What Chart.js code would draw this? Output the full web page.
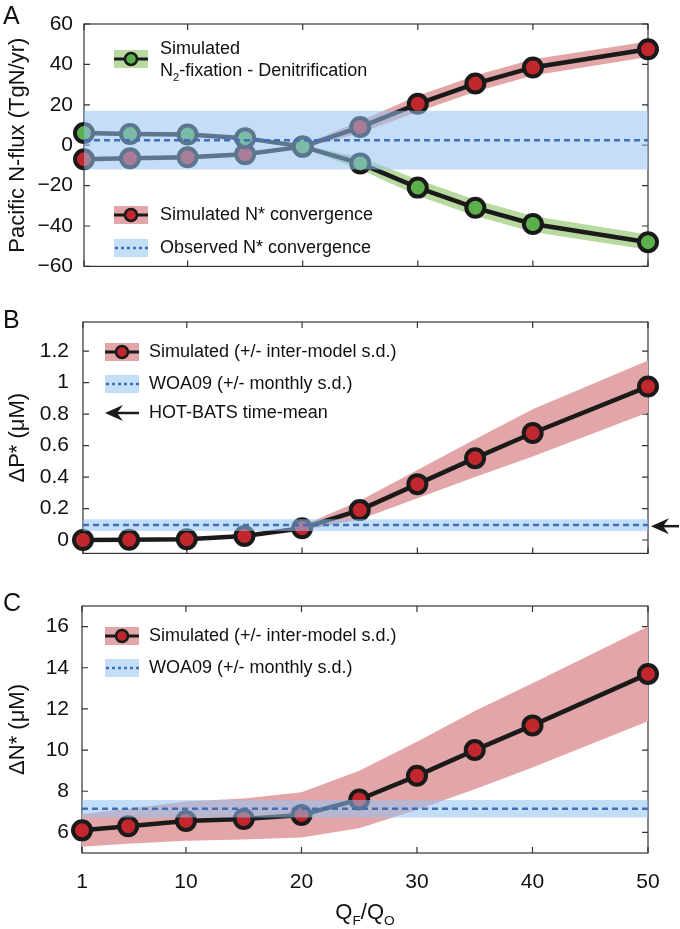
<!DOCTYPE html>
<html lang="en">
<head>
<meta charset="UTF-8">
<title>Pacific N-flux, ΔP* and ΔN* against QF/QO</title>
<script src="https://cdn.jsdelivr.net/npm/chart.js"></script>
<style>
  html, body { margin: 0; padding: 0; background: #fff; }
  #wrap { position: relative; width: 680px; height: 929px; }
  canvas { position: absolute; left: 0; }
</style>
</head>
<body>
<div id="wrap">
  <canvas id="panelA" width="680" height="290" style="top:0"></canvas>
  <canvas id="panelB" width="680" height="290" style="top:290px"></canvas>
  <canvas id="panelC" width="680" height="349" style="top:580px"></canvas>
</div>
<script>
// shared x: QF/QO
const qRatio = [1, 5, 10, 15, 20, 25, 30, 35, 40, 50];
const xTicks = [1, 10, 20, 30, 40, 50];

// panel A: Pacific N-flux (TgN/yr)
const fixDenit = [6, 5.5, 5.3, 3.5, -0.7, -9, -21, -31, -39, -48];
const fixDenitSd = [1, 1, 1, 1, 0.8, 3, 4, 4, 4, 3.8];
const nStarConv = [-7, -6.5, -6, -4.5, -0.7, 9, 20.5, 30.5, 38.5, 47.5];
const nStarConvSd = [1, 1, 1, 1, 0.8, 3, 4, 4, 4, 3.8];
const obsConv = 2.5, obsConvSd = 14.5;
const yTicksA = [-60, -40, -20, 0, 20, 40, 60];

// panel B: ΔP* (μM)
const dPstar = [0, 0.002, 0.005, 0.025, 0.075, 0.19, 0.355, 0.52, 0.68, 0.975];
const dPstarSd = [0.004, 0.004, 0.005, 0.008, 0.015, 0.06, 0.09, 0.12, 0.15, 0.165];
const woaP = 0.095, woaPSd = 0.037;
const hotBatsP = 0.088;
const yTicksB = [0, 0.2, 0.4, 0.6, 0.8, 1, 1.2];

// panel C: ΔN* (μM)
const dNstar = [6.1, 6.3, 6.55, 6.65, 6.85, 7.6, 8.75, 10.0, 11.2, 13.7];
const dNstarSd = [0.8, 0.85, 0.95, 1.0, 1.1, 1.4, 1.65, 1.9, 2.05, 2.3];
const woaN = 7.15, woaNSd = 0.42;
const yTicksC = [6, 8, 10, 12, 14, 16];

const FONT = "'Liberation Sans', Arial, sans-serif";
const INK = '#1a1a1a';
const RED = '#c1272d', GREEN = '#5cb04c';
const RED_BAND = '#e3a6a8', GREEN_BAND = '#b8daa0';
const BLUE_BAND = 'rgba(150,195,240,0.55)', BLUE_LINE = '#3f6fb8';

Chart.defaults.font.family = FONT;
Chart.defaults.color = '#111';

const pts = ys => qRatio.map((x, i) => ({ x, y: ys[i] }));
const shifted = (ys, sd, k) => qRatio.map((x, i) => ({ x, y: ys[i] + k * sd[i] }));
const flat = v => [{ x: qRatio[0], y: v }, { x: qRatio[qRatio.length - 1], y: v }];

function series(ys, color) {
  return { data: pts(ys), borderColor: INK, borderWidth: 4.5, pointRadius: 9, pointBorderWidth: 4,
    pointBackgroundColor: color, pointBorderColor: INK, tension: 0, clip: false, fill: false, order: 3 };
}
function band(ys, sd, color) {
  return [
    { data: shifted(ys, sd, 1), borderWidth: 0, pointRadius: 0, backgroundColor: color, fill: '+1', order: 5 },
    { data: shifted(ys, sd, -1), borderWidth: 0, pointRadius: 0, fill: false, order: 5 }
  ];
}
function obs(mean, sd) {
  return [
    { data: flat(mean + sd), borderWidth: 0, pointRadius: 0, backgroundColor: BLUE_BAND, fill: '+1', order: 2 },
    { data: flat(mean - sd), borderWidth: 0, pointRadius: 0, fill: false, order: 2 },
    { data: flat(mean), borderColor: BLUE_LINE, borderWidth: 2.5, borderDash: [6, 4], pointRadius: 0, fill: false, order: 1 }
  ];
}

function drawRich(ctx, parts, x, y, size) {
  ctx.textBaseline = 'middle';
  ctx.textAlign = 'left';
  parts.forEach(p => {
    const s = p.sub ? size * 0.62 : size;
    ctx.font = s + 'px ' + FONT;
    ctx.fillText(p.t, x, p.sub ? y + size * 0.38 : y);
    x += ctx.measureText(p.t).width;
  });
  return x;
}

function drawArrow(ctx, tipX, tailX, y) {
  ctx.strokeStyle = INK; ctx.fillStyle = INK; ctx.lineWidth = 2.5;
  ctx.beginPath(); ctx.moveTo(tailX, y); ctx.lineTo(tipX + 10, y); ctx.stroke();
  ctx.beginPath();
  ctx.moveTo(tipX, y); ctx.lineTo(tipX + 18, y - 8); ctx.lineTo(tipX + 12, y);
  ctx.lineTo(tipX + 18, y + 8); ctx.closePath(); ctx.fill();
}

function drawSymbol(ctx, kind, x0, x1, y) {
  ctx.save();
  if (kind === 'red' || kind === 'green') {
    ctx.fillStyle = kind === 'red' ? RED_BAND : GREEN_BAND;
    ctx.fillRect(x0, y - 9, x1 - x0, 18);
    ctx.strokeStyle = INK; ctx.lineWidth = 3;
    ctx.beginPath(); ctx.moveTo(x0, y); ctx.lineTo(x1, y); ctx.stroke();
    ctx.beginPath(); ctx.arc((x0 + x1) / 2, y, 6, 0, 2 * Math.PI);
    ctx.fillStyle = kind === 'red' ? RED : GREEN; ctx.fill();
    ctx.lineWidth = 2.5; ctx.stroke();
  } else if (kind === 'blue') {
    ctx.fillStyle = BLUE_BAND;
    ctx.fillRect(x0, y - 9, x1 - x0, 18);
    ctx.strokeStyle = BLUE_LINE; ctx.lineWidth = 2.5; ctx.setLineDash([3, 3]);
    ctx.beginPath(); ctx.moveTo(x0 + 1, y); ctx.lineTo(x1, y); ctx.stroke();
  } else if (kind === 'arrow') {
    drawArrow(ctx, x0, x1, y);
  }
  ctx.restore();
}

// frame, inward ticks, panel letter, legend and extras
function deco(cfg) {
  return {
    id: 'deco' + cfg.letter,
    beforeDatasetsDraw(chart) {
      const { ctx, chartArea: a, scales: { x, y } } = chart;
      ctx.save();
      ctx.strokeStyle = '#333'; ctx.lineWidth = 1.2;
      ctx.strokeRect(a.left, a.top, a.right - a.left, a.bottom - a.top);
      ctx.beginPath();
      xTicks.forEach(v => {
        const px = x.getPixelForValue(v);
        ctx.moveTo(px, a.top); ctx.lineTo(px, a.top + 6);
        ctx.moveTo(px, a.bottom); ctx.lineTo(px, a.bottom - 6);
      });
      cfg.yTicks.forEach(v => {
        const py = y.getPixelForValue(v);
        ctx.moveTo(a.left, py); ctx.lineTo(a.left + 6, py);
        ctx.moveTo(a.right, py); ctx.lineTo(a.right - 6, py);
      });
      ctx.stroke();
      ctx.restore();
    },
    afterDraw(chart) {
      const { ctx, chartArea: a, scales: { y } } = chart;
      ctx.save();
      ctx.fillStyle = '#111';
      ctx.font = '25px ' + FONT;
      ctx.textBaseline = 'middle';
      ctx.fillText(cfg.letter, 3, cfg.letterY);
      cfg.legend.forEach(item => {
        drawSymbol(ctx, item.kind, cfg.symX[0], cfg.symX[1], item.y);
        ctx.fillStyle = '#111';
        item.lines.forEach((parts, k) => drawRich(ctx, parts, cfg.textX, item.y + (k - (item.lines.length - 1) / 2) * 22 + (item.dy || 0), 18));
      });
      if (cfg.arrowValue !== undefined) {
        const py = y.getPixelForValue(cfg.arrowValue);
        drawArrow(ctx, a.right + 3, a.right + 31, py);
      }
      if (cfg.xTitle) {
        ctx.fillStyle = '#111';
        const parts = [{ t: 'Q' }, { t: 'F', sub: true }, { t: '/Q' }, { t: 'O', sub: true }];
        let w = 0;
        parts.forEach(p => { ctx.font = (p.sub ? 22 * 0.62 : 22) + 'px ' + FONT; w += ctx.measureText(p.t).width; });
        drawRich(ctx, parts, (a.left + a.right) / 2 - w / 2, cfg.xTitle, 22);
      }
      ctx.restore();
    }
  };
}

function makePanel(id, datasets, opt) {
  const fmt = v => String(v).replace('-', '\u2212');
  new Chart(document.getElementById(id), {
    type: 'line',
    data: { datasets },
    options: {
      responsive: false, animation: false, devicePixelRatio: 1,
      layout: { padding: opt.padding },
      plugins: { legend: { display: false }, tooltip: { enabled: false } },
      scales: {
        x: {
          type: 'linear', min: 1, max: 50,
          display: opt.showX ? true : false,
          grid: { display: false, drawTicks: false }, border: { display: false },
          afterBuildTicks: s => { s.ticks = xTicks.map(v => ({ value: v })); },
          afterFit: s => { s.height = opt.xHeight || 0; },
          ticks: { font: { size: 21 }, padding: 17, maxRotation: 0, autoSkip: false }
        },
        y: {
          type: 'linear', min: opt.yMin, max: opt.yMax,
          grid: { display: false, drawTicks: false }, border: { display: false },
          afterBuildTicks: s => { s.ticks = opt.yTicks.map(v => ({ value: v })); },
          afterFit: s => { s.width = opt.axisLeft; },
          ticks: { font: { size: 21 }, padding: opt.tickPad, callback: fmt, autoSkip: false },
          title: { display: true, text: opt.yTitle, font: { size: 22 }, padding: { top: 5, bottom: 0 } }
        }
      }
    },
    plugins: [deco(opt.deco)]
  });
}

makePanel('panelA', [
  ...band(fixDenit, fixDenitSd, GREEN_BAND),
  ...band(nStarConv, nStarConvSd, RED_BAND),
  series(fixDenit, GREEN),
  series(nStarConv, RED),
  ...obs(obsConv, obsConvSd)
], {
  padding: { left: 0, right: 32, top: 24, bottom: 17 },
  axisLeft: 84, tickPad: 11,
  yMin: -60, yMax: 60, yTicks: yTicksA, yTitle: 'Pacific N-flux (TgN/yr)',
  deco: {
    letter: 'A', letterY: 17, yTicks: yTicksA, symX: [114, 148], textX: 160,
    legend: [
      { kind: 'green', y: 59, dy: 1, lines: [[{ t: 'Simulated' }], [{ t: 'N' }, { t: '2', sub: true }, { t: '-fixation - Denitrification' }]] },
      { kind: 'red', y: 215, lines: [[{ t: 'Simulated N* convergence' }]] },
      { kind: 'blue', y: 248, lines: [[{ t: 'Observed N* convergence' }]] }
    ]
  }
});

makePanel('panelB', [
  ...band(dPstar, dPstarSd, RED_BAND),
  series(dPstar, RED),
  ...obs(woaP, woaPSd)
], {
  padding: { left: 0, right: 32, top: 32, bottom: 13 },
  axisLeft: 83, tickPad: 14,
  yMin: -0.085, yMax: 1.385, yTicks: yTicksB, yTitle: '\u0394P* (\u03bcM)',
  deco: {
    letter: 'B', letterY: 31, yTicks: yTicksB, symX: [105, 139], textX: 149, arrowValue: hotBatsP,
    legend: [
      { kind: 'red', y: 62, lines: [[{ t: 'Simulated (+/- inter-model s.d.)' }]] },
      { kind: 'blue', y: 94, lines: [[{ t: 'WOA09 (+/- monthly s.d.)' }]] },
      { kind: 'arrow', y: 123, lines: [[{ t: 'HOT-BATS time-mean' }]] }
    ]
  }
});

makePanel('panelC', [
  ...band(dNstar, dNstarSd, RED_BAND),
  series(dNstar, RED),
  ...obs(woaN, woaNSd)
], {
  padding: { left: 0, right: 32, top: 26, bottom: 0 },
  axisLeft: 82, tickPad: 13,
  showX: true, xHeight: 76,
  yMin: 5, yMax: 17, yTicks: yTicksC, yTitle: '\u0394N* (\u03bcM)',
  deco: {
    letter: 'C', letterY: 24, yTicks: yTicksC, symX: [105, 139], textX: 149, xTitle: 333,
    legend: [
      { kind: 'red', y: 56, lines: [[{ t: 'Simulated (+/- inter-model s.d.)' }]] },
      { kind: 'blue', y: 88, lines: [[{ t: 'WOA09 (+/- monthly s.d.)' }]] }
    ]
  }
});
</script>
</body>
</html>
